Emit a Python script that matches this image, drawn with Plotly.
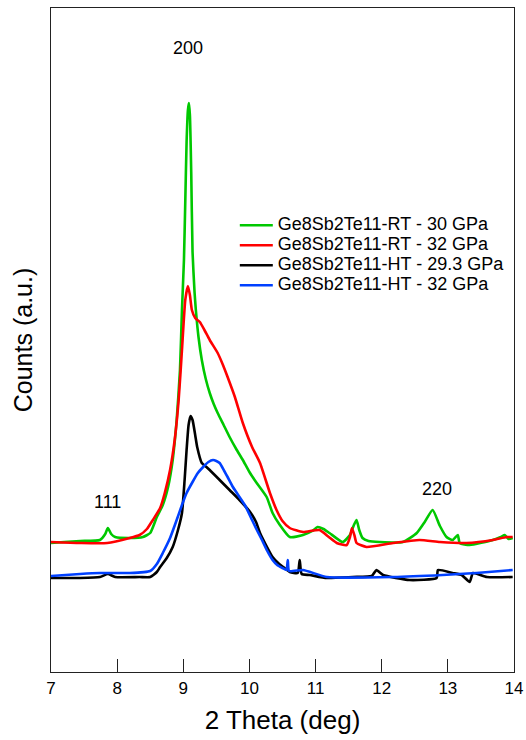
import plotly.graph_objects as go

# ---- data (2 Theta in deg, counts in arbitrary units) ----
green_x = [7.0, 7.2, 7.44, 7.74, 7.82, 7.86, 7.91, 7.97, 8.19, 8.39, 8.50, 8.60, 8.69, 8.77, 8.84,
           8.90, 8.95, 8.98, 9.01, 9.03, 9.05, 9.07, 9.085, 9.10, 9.12, 9.14, 9.17, 9.19, 9.23,
           9.28, 9.34, 9.40, 9.46, 9.52, 9.61, 9.70, 9.80, 9.90, 10.00, 10.11, 10.26, 10.35,
           10.45, 10.61, 10.81, 10.95, 11.03, 11.12, 11.21, 11.41, 11.52, 11.58, 11.62, 11.66,
           11.71, 11.80, 11.97, 12.32, 12.53, 12.65, 12.77, 12.88, 12.98, 13.07, 13.15, 13.18,
           13.33, 13.68, 13.80, 13.86, 13.92, 13.98]
green_y = [129, 130, 131, 132, 138, 144, 138, 135, 134, 135, 139, 155, 167, 185, 212,
           252, 302, 362, 412, 470, 530, 562, 569, 557, 500, 420, 380, 362, 335,
           312, 293, 279, 268, 259, 247, 235, 223, 212, 200, 189, 175, 159,
           148, 135, 137, 141, 145, 143, 139, 130, 137, 147, 152, 142,
           134, 131, 130, 130, 139, 150, 162, 146, 135, 132, 137, 129,
           127, 132, 135, 137, 133, 134]

red_x = [7.0, 7.44, 7.85, 8.19, 8.34, 8.45, 8.54, 8.65, 8.72, 8.80, 8.87, 8.93, 8.98, 9.03, 9.07,
         9.10, 9.13, 9.18, 9.25, 9.32, 9.40, 9.52, 9.60, 9.67, 9.78, 9.90, 10.04, 10.16, 10.31,
         10.41, 10.50, 10.61, 10.81, 11.06, 11.20, 11.32, 11.47, 11.52, 11.55, 11.59, 11.62,
         11.77, 12.17, 12.57, 12.88, 13.28, 13.68, 13.89, 13.98]
red_y = [130, 129, 129, 134, 137, 143, 152, 164, 179, 202, 232, 272, 322, 372, 386,
         377, 362, 354, 350, 342, 332, 319, 307, 295, 275, 249, 225, 209, 179,
         162, 151, 144, 140, 142, 135, 129, 127, 135, 144, 136, 129,
         125, 129, 132, 130, 129, 132, 135, 135]

black_x = [7.0, 7.44, 7.74, 7.86, 7.97, 8.34, 8.50, 8.60, 8.65, 8.75, 8.84, 8.92, 8.98, 9.02,
           9.05, 9.08, 9.11, 9.14, 9.18, 9.21, 9.28, 9.35, 9.40, 9.55, 9.70, 9.85, 10.01, 10.10,
           10.16, 10.25, 10.35, 10.45, 10.53, 10.61, 10.73, 10.76, 10.79, 10.91, 11.17, 11.56,
           11.85, 11.92, 12.02, 12.42, 12.83, 12.85, 13.07, 13.21, 13.33, 13.38, 13.59, 13.98]
black_y = [94, 94, 95, 98, 95, 95, 95, 100, 105, 114, 125, 142, 159, 192,
           222, 247, 256, 252, 237, 225, 209, 205, 202, 192, 182, 172, 160, 150,
           139, 127, 115, 108, 104, 100, 99, 112, 98, 97, 94, 95,
           96, 102, 97, 92, 94, 102, 99, 97, 90, 99, 95, 95]

blue_x = [7.0, 7.44, 7.74, 8.19, 8.50, 8.60, 8.69, 8.80, 8.90, 8.98, 9.05, 9.14, 9.22, 9.30,
          9.38, 9.45, 9.50, 9.55, 9.62, 9.67, 9.75, 9.81, 9.93, 10.04, 10.12, 10.19, 10.27,
          10.35, 10.42, 10.50, 10.56, 10.58, 10.60, 10.81, 11.17, 12.17, 12.92, 13.43, 13.98]
blue_y = [96, 98, 99, 99, 101, 108, 119, 134, 152, 167, 179, 190, 199, 205,
          210, 212, 211, 209, 201, 195, 185, 179, 167, 152, 141, 132, 121,
          112, 107, 104, 102, 112, 101, 102, 95, 95, 97, 99, 102]

series_names = ["Ge8Sb2Te11-RT - 30 GPa", "Ge8Sb2Te11-RT - 32 GPa",
                "Ge8Sb2Te11-HT - 29.3 GPa", "Ge8Sb2Te11-HT - 32 GPa"]
series_colors = ["#00c800", "#ff0000", "#000000", "#0040ff"]

peak_labels = ["111", "200", "220"]
peak_x = [7.85, 9.07, 12.83]
peak_y = [170, 624, 183]

x_ticks = [7, 8, 9, 10, 11, 12, 13, 14]

FONT = "Arial, 'Liberation Sans', sans-serif"

fig = go.Figure()
for xs, ys, name, col in zip([green_x, red_x, black_x, blue_x],
                             [green_y, red_y, black_y, blue_y],
                             series_names, series_colors):
    fig.add_trace(go.Scatter(x=xs, y=ys, mode="lines",
                             name='<span style="font-size:18px">' + name + '</span>',
                             line=dict(color=col, width=2.6, shape="spline", smoothing=0.5)))

for t, px, py in zip(peak_labels, peak_x, peak_y):
    fig.add_annotation(x=px, y=py, text=t, showarrow=False,
                       font=dict(family=FONT, size=18, color="#000"))

fig.update_layout(
    width=526, height=740,
    margin=dict(l=51, r=12, t=8, b=68, autoexpand=False),
    paper_bgcolor="white", plot_bgcolor="white",
    font=dict(family=FONT, color="#000"),
    showlegend=True,
    legend=dict(x=0.397, y=0.6955, xanchor="left", yanchor="top",
                bgcolor="rgba(0,0,0,0)", font=dict(family=FONT, size=13.1),
                tracegroupgap=0, itemwidth=33),
    xaxis=dict(range=[7, 14], tickvals=x_ticks, ticks="inside", ticklen=13,
               tickwidth=1, tickcolor="#222", showgrid=False, zeroline=False,
               showline=True, linecolor="#222", linewidth=1.2, mirror=True,
               tickfont=dict(family=FONT, size=17),
               title=dict(text="2 Theta (deg)", font=dict(family=FONT, size=26), standoff=14)),
    yaxis=dict(range=[0, 664], showticklabels=False, ticks="", showgrid=False,
               zeroline=False, showline=True, linecolor="#222", linewidth=1.2, mirror=True,
               title=dict(text="Counts (a.u.)", font=dict(family=FONT, size=25), standoff=10)),
)

fig.write_html("out.html", post_script="document.body.style.margin='0';",
               config={"displayModeBar": False})
